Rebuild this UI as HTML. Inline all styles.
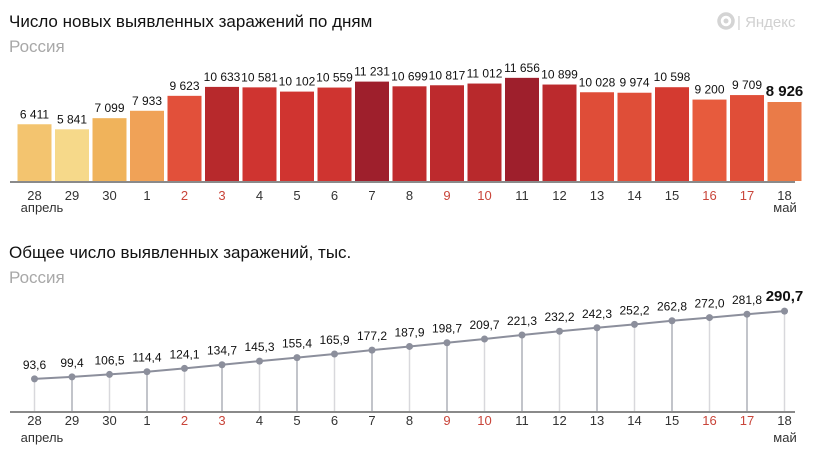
<!DOCTYPE html>
<html><head><meta charset="utf-8"><style>
body{margin:0;background:#fff;width:823px;height:462px;overflow:hidden}
svg{display:block;font-family:"Liberation Sans",sans-serif}
</style></head><body>
<svg id="s" width="823" height="462" xmlns="http://www.w3.org/2000/svg">
<text x="9" y="27" font-size="17" fill="#111">Число новых выявленных заражений по дням</text>
<text x="9" y="52" font-size="17" fill="#a8a8a8">Россия</text>
<circle cx="726" cy="21" r="7" fill="none" stroke="#d4d4d4" stroke-width="3.5"/>
<circle cx="726" cy="21" r="2.5" fill="#d4d4d4"/>
<text x="737" y="27" font-size="15" fill="#d0d0d0">| Яндекс</text>
<text x="9" y="258" font-size="17" fill="#111">Общее число выявленных заражений, тыс.</text>
<text x="9" y="283" font-size="17" fill="#a8a8a8">Россия</text>
</svg>
<script>
var s=document.getElementById('s'),ns='http://www.w3.org/2000/svg';
function el(t,a,txt){var e=document.createElementNS(ns,t);for(var k in a)e.setAttribute(k,a[k]);if(txt!=null)e.textContent=txt;s.appendChild(e);return e;}
var v=[6411,5841,7099,7933,9623,10633,10581,10102,10559,11231,10699,10817,11012,11656,10899,10028,9974,10598,9200,9709,8926];
var L=["6 411","5 841","7 099","7 933","9 623","10 633","10 581","10 102","10 559","11 231","10 699","10 817","11 012","11 656","10 899","10 028","9 974","10 598","9 200","9 709","8 926"];
var C=["#f3c46f","#f6d98a","#f0b35b","#f0a257","#e2503a","#b7292c","#cf3430","#d03430","#cf3430","#9e1f2c","#c02b2d","#bd2a2d","#b8292c","#9e1f2c","#bb2a2d","#df4d38","#df4e38","#d43a30","#e75b3d","#e04e38","#ea7b48"];
var D=["28","29","30","1","2","3","4","5","6","7","8","9","10","11","12","13","14","15","16","17","18"];
var red={4:1,5:1,11:1,12:1,18:1,19:1};
var t=[93.6,99.4,106.5,114.4,124.1,134.7,145.3,155.4,165.9,177.2,187.9,198.7,209.7,221.3,232.2,242.3,252.2,262.8,272.0,281.8,290.7];
function X(i){return 34.5+i*37.5;}
for(var i=0;i<21;i++){
 var h=v[i]*0.00885,x=X(i);
 el('rect',{x:x-17,y:181-h,width:34,height:h,fill:C[i]});
 el('text',{x:x,y:181-h-6,'font-size':i==20?15:12,'font-weight':i==20?'bold':'normal','text-anchor':'middle',fill:'#111'},L[i]);
 el('text',{x:x,y:200,'font-size':13,'text-anchor':'middle',fill:red[i]?'#c9453a':'#333'},D[i]);
 el('text',{x:x,y:425,'font-size':13,'text-anchor':'middle',fill:red[i]?'#c9453a':'#333'},D[i]);
}
el('line',{x1:10,y1:182,x2:795,y2:182,stroke:'#8a8a8a','stroke-width':2});
el('text',{x:42,y:212,'font-size':13,'text-anchor':'middle',fill:'#333'},'апрель');
el('text',{x:785,y:212,'font-size':13,'text-anchor':'middle',fill:'#333'},'май');
el('text',{x:42,y:442,'font-size':13,'text-anchor':'middle',fill:'#333'},'апрель');
el('text',{x:785,y:442,'font-size':13,'text-anchor':'middle',fill:'#333'},'май');
var pts=[];
for(var i=0;i<21;i++){
 var x=X(i),y=411-t[i]*0.3435;pts.push(x+','+y);
 el('line',{x1:x,y1:y,x2:x,y2:411,stroke:i%2?'#aeb0b8':'#d8d8dc','stroke-width':1.5});
}
el('polyline',{points:pts.join(' '),fill:'none',stroke:'#8c8f9c','stroke-width':2});
for(var i=0;i<21;i++){
 var x=X(i),y=411-t[i]*0.3435;
 el('circle',{cx:x,cy:y,r:3.5,fill:'#8c8f9c'});
 el('text',{x:x,y:y-10,'font-size':i==20?15:12,'font-weight':i==20?'bold':'normal','text-anchor':'middle',fill:'#111'},t[i].toFixed(1).replace('.',','));
}
el('line',{x1:10,y1:412,x2:795,y2:412,stroke:'#8a8a8a','stroke-width':2});
</script>
</body></html>
